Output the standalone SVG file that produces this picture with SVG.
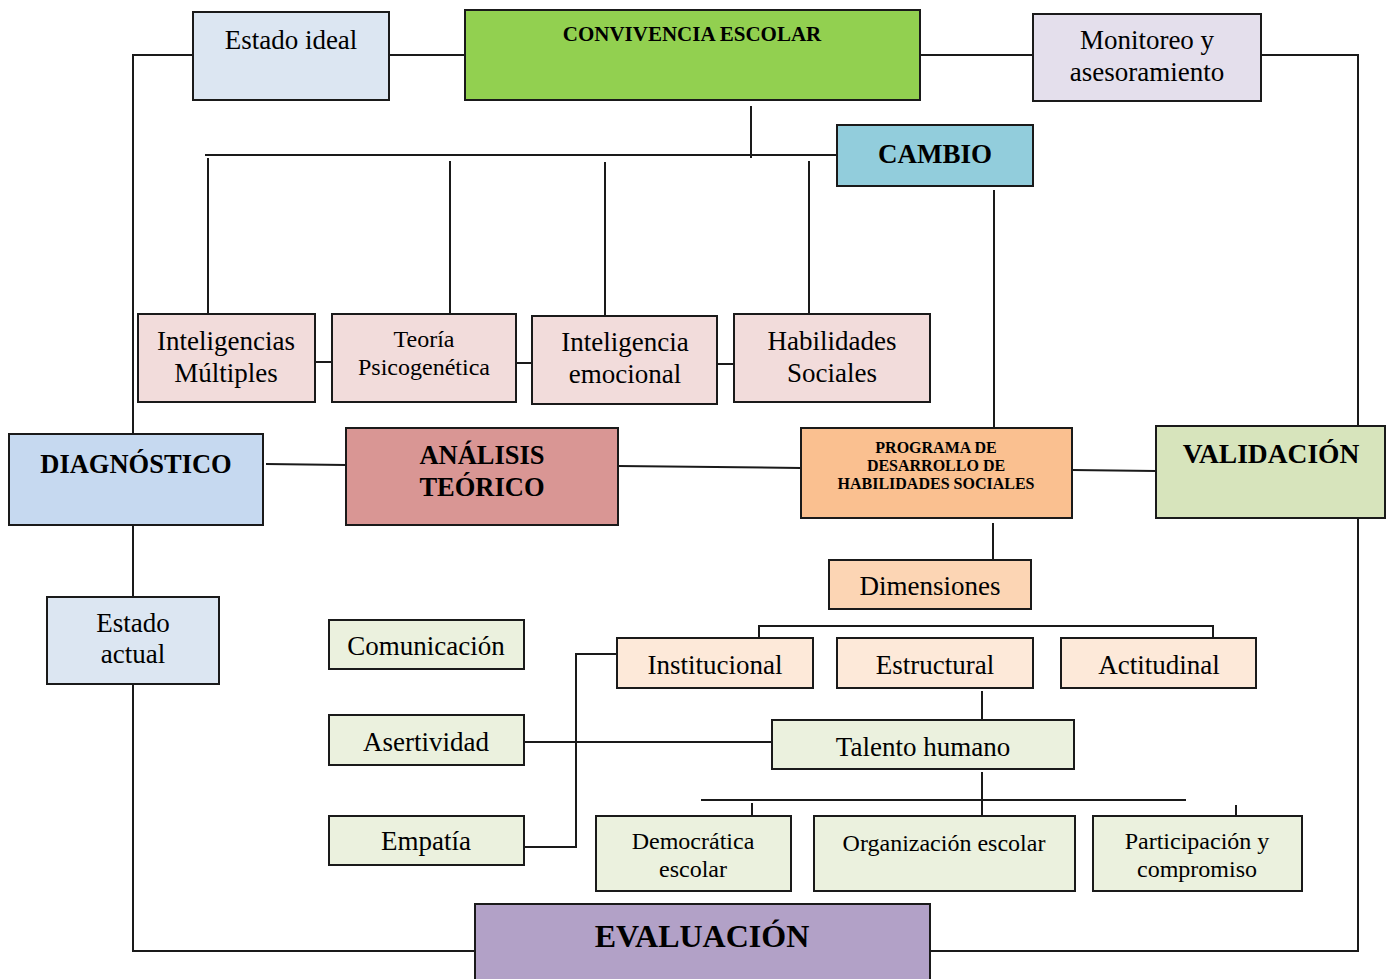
<svg xmlns="http://www.w3.org/2000/svg" width="1392" height="979" viewBox="0 0 1392 979">
<style>
.b{stroke:#1a1a1a;stroke-width:2}
.c{fill:none;stroke:#1a1a1a;stroke-width:2}
text{font-family:"Liberation Serif","Times New Roman",serif;fill:#000;text-anchor:middle}
.bd{font-weight:bold}
.r{font-size:27px}
.s{font-size:24px}
</style>
<rect width="1392" height="979" fill="#fff"/>
<g id="connectors">
<polyline class="c" points="193,55 133,55 133,434"/>
<line class="c" x1="389" y1="55" x2="465" y2="55"/>
<line class="c" x1="920" y1="55" x2="1033" y2="55"/>
<polyline class="c" points="1261,55 1358,55 1358,426"/>
<polyline class="c" points="1358,518 1358,951 930,951"/>
<line class="c" x1="133" y1="525" x2="133" y2="597"/>
<polyline class="c" points="133,684 133,951 475,951"/>
<line class="c" x1="205" y1="155" x2="837" y2="155"/>
<line class="c" x1="751" y1="106" x2="751" y2="158"/>
<line class="c" x1="208" y1="158" x2="208" y2="314"/>
<line class="c" x1="450" y1="161" x2="450" y2="314"/>
<line class="c" x1="605" y1="162" x2="605" y2="316"/>
<line class="c" x1="809" y1="161" x2="809" y2="314"/>
<line class="c" x1="994" y1="190" x2="994" y2="428"/>
<line class="c" x1="315" y1="362" x2="332" y2="362"/>
<line class="c" x1="516" y1="363" x2="532" y2="363"/>
<line class="c" x1="717" y1="364" x2="734" y2="364"/>
<line class="c" x1="266" y1="464" x2="346" y2="465"/>
<line class="c" x1="618" y1="466" x2="801" y2="468"/>
<line class="c" x1="1072" y1="470" x2="1156" y2="471"/>
<line class="c" x1="993" y1="523" x2="993" y2="560"/>
<polyline class="c" points="759,638 759,626 1213,626 1213,638"/>
<line class="c" x1="982" y1="691" x2="982" y2="720"/>
<line class="c" x1="524" y1="742" x2="772" y2="742"/>
<polyline class="c" points="617,654 576,654 576,847 524,847"/>
<line class="c" x1="982" y1="772" x2="982" y2="816"/>
<line class="c" x1="701" y1="800" x2="1186" y2="800"/>
<line class="c" x1="752" y1="803" x2="752" y2="816"/>
<line class="c" x1="1236" y1="805" x2="1236" y2="816"/>
</g>
<g id="estado-ideal"><rect class="b" x="193" y="12" width="196" height="88" fill="#dce6f2"/><text class="r" x="291" y="49">Estado ideal</text></g>
<g id="convivencia"><rect class="b" x="465" y="10" width="455" height="90" fill="#92d050"/><text class="bd" x="692" y="41" font-size="21">CONVIVENCIA ESCOLAR</text></g>
<g id="monitoreo"><rect class="b" x="1033" y="14" width="228" height="87" fill="#e4dfec"/><text class="r" x="1147" y="49">Monitoreo y</text><text class="r" x="1147" y="81">asesoramiento</text></g>
<g id="cambio"><rect class="b" x="837" y="125" width="196" height="61" fill="#92cddc"/><text class="bd" x="935" y="163" font-size="27">CAMBIO</text></g>
<g id="intmult"><rect class="b" x="138" y="314" width="177" height="88" fill="#f2dcdb"/><text class="r" x="226" y="350">Inteligencias</text><text class="r" x="226" y="382">Múltiples</text></g>
<g id="teoria"><rect class="b" x="332" y="314" width="184" height="88" fill="#f2dcdb"/><text class="s" x="424" y="347">Teoría</text><text class="s" x="424" y="375">Psicogenética</text></g>
<g id="intemo"><rect class="b" x="532" y="316" width="185" height="88" fill="#f2dcdb"/><text class="r" x="625" y="351">Inteligencia</text><text class="r" x="625" y="383">emocional</text></g>
<g id="habsoc"><rect class="b" x="734" y="314" width="196" height="88" fill="#f2dcdb"/><text class="r" x="832" y="350">Habilidades</text><text class="r" x="832" y="382">Sociales</text></g>
<g id="diagnostico"><rect class="b" x="9" y="434" width="254" height="91" fill="#c6d9f0"/><text class="bd" x="136" y="473" font-size="26.5">DIAGNÓSTICO</text></g>
<g id="analisis"><rect class="b" x="346" y="428" width="272" height="97" fill="#d99694"/><text class="bd" x="482" y="464" font-size="26.5">ANÁLISIS</text><text class="bd" x="482" y="496" font-size="26.5">TEÓRICO</text></g>
<g id="programa"><rect class="b" x="801" y="428" width="271" height="90" fill="#fac090"/><text class="bd" x="936" y="453" font-size="16">PROGRAMA DE</text><text class="bd" x="936" y="471" font-size="16">DESARROLLO DE</text><text class="bd" x="936" y="489" font-size="16">HABILIDADES SOCIALES</text></g>
<g id="validacion"><rect class="b" x="1156" y="426" width="229" height="92" fill="#d7e4bc"/><text class="bd" x="1271" y="463" font-size="27.5">VALIDACIÓN</text></g>
<g id="estado-actual"><rect class="b" x="47" y="597" width="172" height="87" fill="#dce6f2"/><text class="r" x="133" y="632">Estado</text><text class="r" x="133" y="663">actual</text></g>
<g id="dimensiones"><rect class="b" x="829" y="560" width="202" height="49" fill="#fcd5b4"/><text class="r" x="930" y="595">Dimensiones</text></g>
<g id="institucional"><rect class="b" x="617" y="638" width="196" height="50" fill="#fde9d9"/><text class="r" x="715" y="674">Institucional</text></g>
<g id="estructural"><rect class="b" x="837" y="638" width="196" height="50" fill="#fde9d9"/><text class="r" x="935" y="674">Estructural</text></g>
<g id="actitudinal"><rect class="b" x="1061" y="638" width="195" height="50" fill="#fde9d9"/><text class="r" x="1159" y="674">Actitudinal</text></g>
<g id="talento"><rect class="b" x="772" y="720" width="302" height="49" fill="#ebf1de"/><text class="r" x="923" y="756">Talento humano</text></g>
<g id="comunicacion"><rect class="b" x="329" y="620" width="195" height="49" fill="#ebf1de"/><text class="r" x="426" y="655">Comunicación</text></g>
<g id="asertividad"><rect class="b" x="329" y="715" width="195" height="50" fill="#ebf1de"/><text class="r" x="426" y="751">Asertividad</text></g>
<g id="empatia"><rect class="b" x="329" y="816" width="195" height="49" fill="#ebf1de"/><text class="r" x="426" y="850">Empatía</text></g>
<g id="democratica"><rect class="b" x="596" y="816" width="195" height="75" fill="#ebf1de"/><text class="s" x="693" y="849">Democrática</text><text class="s" x="693" y="877">escolar</text></g>
<g id="organizacion"><rect class="b" x="814" y="816" width="261" height="75" fill="#ebf1de"/><text class="s" x="944" y="851">Organización escolar</text></g>
<g id="participacion"><rect class="b" x="1093" y="816" width="209" height="75" fill="#ebf1de"/><text class="s" x="1197" y="849">Participación y</text><text class="s" x="1197" y="877">compromiso</text></g>
<g id="evaluacion"><rect class="b" x="475" y="904" width="455" height="80" fill="#b2a1c7"/><text class="bd" x="702" y="947" font-size="32">EVALUACIÓN</text></g>
</svg>
